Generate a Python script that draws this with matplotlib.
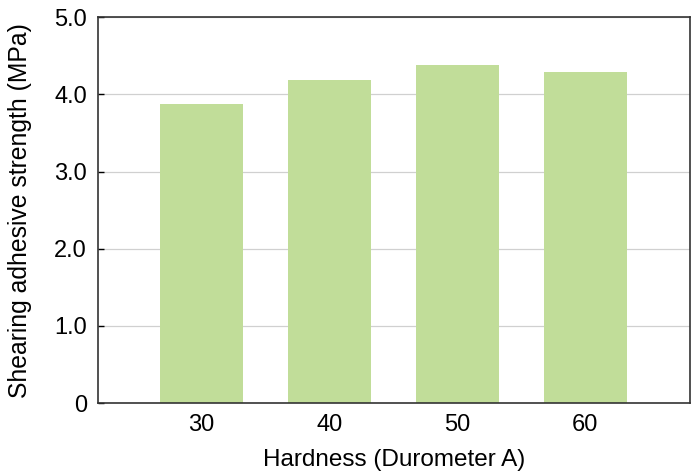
import numpy as np
import matplotlib.pyplot as plt

plt.rcParams['font.family'] = ['Liberation Sans', 'DejaVu Sans']

hardness = ['30', '40', '50', '60']
strength = [3.87, 4.18, 4.38, 4.29]
y_ticks = [0, 1.0, 2.0, 3.0, 4.0, 5.0]
y_labels = ['0', '1.0', '2.0', '3.0', '4.0', '5.0']

fig = plt.figure(figsize=(7, 4.76), dpi=100)
ax = fig.add_axes([0.14, 0.153, 0.846, 0.811])

x = np.arange(len(hardness))
ax.bar(x, strength, width=0.65, color='#c1dd99', zorder=2)

ax.set_xlim(-0.81, 3.82)
ax.set_ylim(0, 5.0)
ax.set_xticks(x)
ax.set_xticklabels(hardness)
ax.set_yticks(y_ticks)
ax.set_yticklabels(y_labels)
ax.yaxis.grid(True, color='#d0d0d0', linewidth=0.9, zorder=0)
ax.tick_params(axis='y', direction='in', length=4, width=1, labelsize=17, pad=8)
ax.tick_params(axis='x', length=0, labelsize=17, pad=8)
for s in ax.spines.values():
    s.set_color('#333333')
    s.set_linewidth(1.2)

ax.set_xlabel('Hardness (Durometer A)', fontsize=17.5, labelpad=9)
ax.set_ylabel('Shearing adhesive strength (MPa)', fontsize=17.8, labelpad=16)

fig.savefig('out.png', dpi=100)
